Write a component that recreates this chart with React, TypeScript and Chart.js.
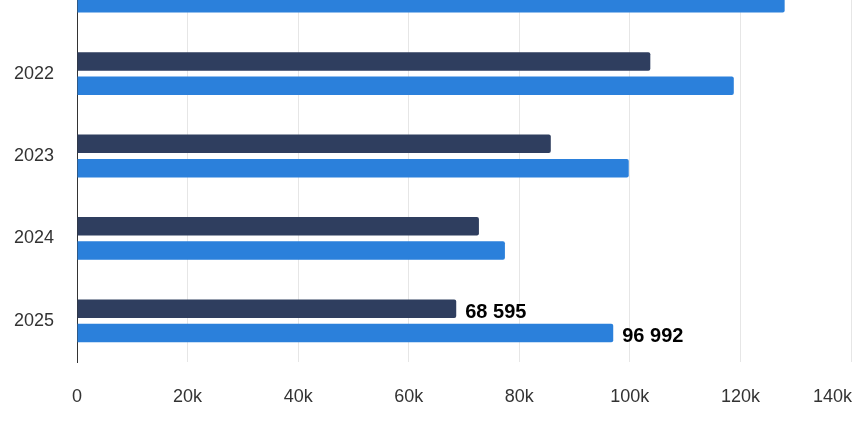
import React, { useEffect, useRef } from 'react';
import { Chart, registerables } from 'chart.js';

Chart.register(...registerables);

// years on the category axis (2021 is mostly cut off at the top)
const years = ['2021', '2022', '2023', '2024', '2025'];
// dark series (2021 value is not visible in the picture)
const darkValues: (number | null)[] = [null, 103700, 85700, 72700, 68595];
// light series
const lightValues: number[] = [128000, 118800, 99800, 77400, 96992];
// value axis
const xMax = 140000;
const xStep = 20000;
// only this year carries value labels
const labeledYear = '2025';

const DARK = '#2f3e5f';
const LIGHT = '#2b80db';
const FONT = '"Liberation Sans", Arial, Helvetica, sans-serif';

const fmtTick = (v: number) => (v === 0 ? '0' : `${v / 1000}k`);
const fmtNum = (v: number) => String(v).replace(/\B(?=(\d{3})+(?!\d))/g, ' ');

// x tick labels, last one kept inside the plot
const xLabelsPlugin = {
  id: 'xLabels',
  afterDraw(chart: any) {
    const { ctx, chartArea, scales } = chart;
    const x = scales.x;
    ctx.save();
    ctx.font = `18px ${FONT}`;
    ctx.fillStyle = '#333333';
    ctx.textAlign = 'left';
    ctx.textBaseline = 'alphabetic';
    x.ticks.forEach((t: any) => {
      const label = fmtTick(t.value);
      const w = ctx.measureText(label).width;
      let left = x.getPixelForValue(t.value) - w / 2;
      if (left + w > chartArea.right + 1) left = chartArea.right + 1 - w;
      ctx.fillText(label, left, chartArea.bottom + 40);
    });
    ctx.restore();
  },
};

const valueLabelsPlugin = {
  id: 'valueLabels',
  afterDatasetsDraw(chart: any) {
    const { ctx } = chart;
    const idx = years.indexOf(labeledYear);
    ctx.save();
    ctx.font = `bold 20px ${FONT}`;
    ctx.fillStyle = '#000000';
    ctx.textAlign = 'left';
    ctx.textBaseline = 'alphabetic';
    chart.data.datasets.forEach((ds: any, i: number) => {
      const el = chart.getDatasetMeta(i).data[idx];
      const v = ds.data[idx];
      if (!el || v == null) return;
      ctx.fillText(fmtNum(v), el.x + 9, el.y + 9.5);
    });
    ctx.restore();
  },
};

const BarChart: React.FC = () => {
  const canvasRef = useRef<HTMLCanvasElement>(null);
  const chartRef = useRef<Chart>();

  useEffect(() => {
    if (canvasRef.current) {
      chartRef.current = new Chart(canvasRef.current, {
        type: 'bar',
        data: {
          labels: years,
          datasets: [
            {
              label: 'Dark',
              data: darkValues,
              backgroundColor: DARK,
              borderRadius: 2,
              borderSkipped: 'start',
              barPercentage: 0.76,
              categoryPercentage: 0.59,
            },
            {
              label: 'Light',
              data: lightValues,
              backgroundColor: LIGHT,
              borderRadius: 2,
              borderSkipped: 'start',
              barPercentage: 0.76,
              categoryPercentage: 0.59,
            },
          ],
        },
        options: {
          indexAxis: 'y',
          animation: false,
          responsive: true,
          maintainAspectRatio: false,
          layout: { padding: { top: 10, right: 15, bottom: 66, left: 0 } },
          plugins: {
            legend: { display: false },
            tooltip: { enabled: false },
          },
          scales: {
            x: {
              min: 0,
              max: xMax,
              ticks: { stepSize: xStep, display: false },
              grid: {
                drawTicks: false,
                color: (c: any) => (c.index === 0 ? 'rgba(0,0,0,0)' : '#e6e6e6'),
              },
              border: { display: false },
            },
            y: {
              ticks: {
                color: '#333333',
                font: { family: FONT, size: 18 },
                padding: 23,
              },
              grid: { display: false, drawTicks: false },
              border: { display: true, color: '#333333', width: 1 },
              afterFit: (scale: any) => {
                scale.width = 77;
                scale.paddingTop = 0;
                scale.paddingBottom = 0;
              },
            },
          },
        },
        plugins: [xLabelsPlugin, valueLabelsPlugin],
      });
    }

    return () => {
      if (chartRef.current) {
        chartRef.current.destroy();
      }
    };
  }, []);

  return (
    <div style={{ position: 'absolute', left: 0, top: -60, width: 866, height: 488 }}>
      <canvas ref={canvasRef} />
    </div>
  );
};

export default function App() {
  return <BarChart />;
}
